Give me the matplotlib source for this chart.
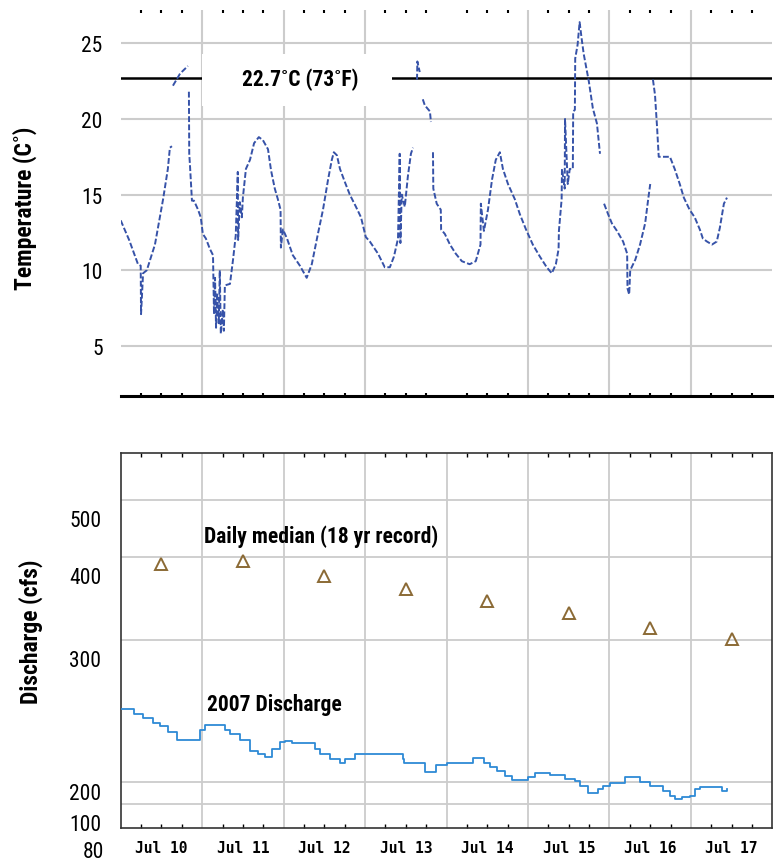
import numpy as np
import matplotlib
matplotlib.use("Agg")
import matplotlib.pyplot as plt
from matplotlib import font_manager, transforms
from matplotlib.patches import Rectangle

# ---- fonts
names = {f.name for f in font_manager.fontManager.ttflist}
NARROW = next((n for n in ["Liberation Sans Narrow", "Roboto Condensed", "DejaVu Sans"] if n in names), "DejaVu Sans")
STRETCH = "condensed" if NARROW == "DejaVu Sans" else "normal"
MONO = "DejaVu Sans Mono"

# ---- data (hours since Jul 10 00:00)
nan = np.nan
temp_hours = [0, 2.5, 5.1, 5.9, 6.0, 6.6, 7.7, 10.1, 12.5, 13.9, 14.5, 15.1, 15.2,
              15.4, 17.5, 19.8, 19.9,
              20.1, 20.2, 20.4, 21.0, 21.6, 22.8, 23.6, 24.2, 25.1, 26.3, 27.2, 27.5, 27.8,
              28.1, 28.4, 28.9, 29.2, 29.5, 30.1, 30.4, 30.7, 32.2, 33.1, 33.9, 34.5, 34.6,
              35.1, 35.7, 36.0, 36.9, 38.1, 39.3, 40.7, 41.9, 43.4, 44.3, 45.4, 46.3, 47.1,
              47.2, 47.8, 49.0, 50.7, 52.8, 54.8, 56.3, 58.1, 59.6, 61.1, 62.2, 62.8, 63.7,
              64.6, 66.1, 67.5, 69.3, 70.8, 72.2, 73.4, 75.8, 77.8, 79.3, 80.5, 81.7, 82.2,
              82.4, 82.8, 83.7, 84.6, 85.5, 86.1, 86.2,
              87.3, 87.4, 88.1, 88.2,
              89.0, 89.6, 91.1, 91.4, 91.5,
              92.0, 92.1, 93.1, 94.3, 94.4, 95.5, 97.0, 98.7, 100.5, 102.8, 104.6, 106.0,
              106.1, 107.0, 108.2, 109.4, 110.5, 111.7, 112.6, 114.1, 116.1, 117.6, 119.4,
              121.4, 123.5, 125.5, 127.0, 128.2, 129.0, 129.1, 129.9, 130.0, 130.8, 130.9,
              131.7, 132.3, 133.2, 133.3, 133.8, 133.9, 134.6, 135.2, 135.8, 136.4, 137.9,
              139.1, 140.3, 141.2, 141.3,
              142.4, 143.6, 144.7, 146.2, 148.0, 149.2, 149.3, 149.8, 150.1, 151.6, 153.0,
              154.5, 155.4, 156.0, 156.1,
              156.8, 157.4, 158.0, 158.5, 159.4, 161.8, 163.2, 164.7, 165.9, 167.6, 169.1,
              170.6, 171.5, 172.7, 174.2, 175.6, 176.5, 177.7, 178.6]
temp_c = [13.3, 12.0, 10.4, 10.3, 7.1, 9.8, 10.0, 11.7, 14.7, 16.7, 18.1, 18.2, nan,
          22.2, 23.0, 23.5, nan,
          21.8, 17.7, 17.0, 14.6, 14.6, 14.0, 13.5, 12.4, 12.1, 11.4, 11.0, 7.1, 9.5,
          6.2, 8.5, 6.5, 10.0, 5.8, 7.4, 6.0, 9.0, 9.1, 10.7, 12.3, 16.5, 12.0,
          14.5, 13.5, 14.8, 16.7, 17.3, 18.4, 18.8, 18.6, 18.0, 16.6, 15.4, 14.7, 14.0,
          11.5, 12.7, 12.1, 11.0, 10.3, 9.5, 10.4, 12.4, 14.0, 16.0, 17.3, 17.8, 17.6,
          16.7, 15.8, 15.0, 14.2, 13.5, 12.2, 11.9, 11.1, 10.2, 10.2, 10.9, 12.1, 17.7,
          11.8, 15.0, 14.2, 16.2, 17.7, 18.1, nan,
          22.6, 23.8, 23.1, nan,
          21.3, 20.9, 20.5, 19.8, nan,
          17.8, 15.4, 14.4, 14.0, 12.7, 12.4, 11.7, 11.1, 10.6, 10.4, 10.6, 11.7,
          14.4, 12.6, 14.0, 16.0, 17.3, 17.8, 16.7, 15.7, 14.7, 13.7, 12.7,
          11.7, 10.9, 10.2, 9.8, 10.4, 11.4, 12.6, 14.7, 16.7, 15.4, 20.0,
          15.7, 16.7, 16.7, 20.5, 20.6, 24.0, 24.9, 26.4, 25.3, 24.3, 22.5,
          20.7, 19.7, 17.7, nan,
          14.4, 13.7, 13.1, 12.6, 11.9, 11.1, 8.8, 8.4, 10.0, 10.7, 11.7,
          13.1, 14.7, 15.7, nan,
          22.6, 21.6, 19.5, 17.5, 17.5, 17.5, 16.7, 15.7, 14.8, 14.0, 13.5,
          12.7, 12.1, 11.9, 11.7, 11.9, 12.8, 14.4, 14.8]

q_hours = [0, 3.9, 6.6, 9.6, 11.6, 14.0, 16.6, 19.2, 23.4, 24.8, 30.7, 32.2, 35.1,
           38.1, 40.4, 42.5, 44.6, 46.9, 48.4, 50.4, 57.2, 58.7, 61.6, 64.6, 66.1,
           69.0, 71.4, 83.1, 83.4, 85.2, 89.6, 91.7, 92.9, 96.1, 102.9, 103.8, 105.8,
           107.0, 108.8, 110.8, 113.2, 115.2, 119.1, 119.9, 122.0, 125.0, 126.4, 129.4,
           130.8, 133.8, 135.2, 137.6, 140.5, 142.0, 144.1, 147.0, 148.5, 152.9, 155.8,
           158.2, 159.7, 161.7, 163.2, 165.5, 167.6, 169.1, 170.6, 172.7, 176.5, 177.1,
           178.6]
q_cfs = [251.5, 248.0, 245.0, 242.0, 239.5, 235.0, 229.6, 229.6, 236.7, 240.2, 236.7,
         233.9, 229.6, 221.9, 219.8, 217.6, 223.3, 228.2, 228.9, 227.5, 223.3, 219.8,
         216.2, 213.4, 216.2, 219.8, 219.8, 216.2, 213.4, 213.4, 207.1, 207.1, 212.0,
         213.4, 213.4, 216.9, 216.9, 213.4, 210.6, 207.8, 204.2, 201.4, 201.4, 203.5,
         206.4, 206.4, 204.9, 204.9, 202.1, 200.7, 181.8, 150.0, 168.0, 181.8, 195.5,
         195.5, 203.5, 200.0, 181.8, 181.8, 159.0, 136.0, 122.7, 131.8, 136.0, 168.0,
         177.0, 178.6, 178.6, 159.0, 168.0]

med_hours = [12, 36, 60, 84, 108, 132, 156, 180]
med_cfs = [391.9, 395.2, 377.8, 361.8, 347.0, 332.5, 314.5, 301.6]

day_labels = ["Jul 10", "Jul 11", "Jul 12", "Jul 13", "Jul 14", "Jul 15", "Jul 16", "Jul 17"]
threshold = 22.7

# odd discharge axis: labelled values mapped to screen positions (piecewise)
q_anchor_vals = [80, 100, 200, 300, 400, 500, 600]
q_anchor_pos = [0, 24, 46, 187.7, 270.7, 328.3, 385.9]

GRID = "#cccccc"
TEMP_C = "#3652a8"
Q_C = "#2e8ad6"
TRI_C = "#8b6a35"

fig = plt.figure(figsize=(7.75, 8.62), dpi=100)
ax1 = fig.add_axes([0.1557, 0.5391, 0.841, 0.4481])
ax2 = fig.add_axes([0.1557, 0.0383, 0.841, 0.4347])

hours_minor = [h for h in range(6, 192, 6) if h % 24]
midnights = list(range(24, 192, 24))
noons = list(range(12, 192, 24))

# ---------------- temperature panel
ax1.set_xlim(0, 192)
ax1.set_ylim(1.67, 27.2)
for s in ["left", "right", "top"]:
    ax1.spines[s].set_visible(False)
ax1.spines["bottom"].set_linewidth(2.2)
ax1.spines["bottom"].set_color("black")
ax1.set_yticks([5, 10, 15, 20, 25])
ax1.tick_params(axis="y", length=0, pad=13, labelsize=15.5)
for lab in ax1.get_yticklabels():
    lab.set_family(NARROW); lab.set_stretch(STRETCH)
ax1.set_xticks(hours_minor)
ax1.set_xticklabels([])
ax1.tick_params(axis="x", direction="in", length=2.5, width=1.5, top=True, bottom=True)
for y in [5, 10, 15, 20, 25]:
    ax1.axhline(y, color=GRID, lw=1.5, zorder=1)
for h in midnights:
    if h != 96:
        ax1.axvline(h, color=GRID, lw=1.5, zorder=1)
ax1.axhline(threshold, color="black", lw=1.8, zorder=2)
ax1.add_patch(Rectangle((23.9, 20.86), 56.0, 3.43, facecolor="white", edgecolor="none", zorder=3))
ax1.text(52.9, 22.64, "22.7˚C (73˚F)", ha="center", va="center", fontsize=15.5,
         fontweight="bold", family=NARROW, stretch=STRETCH, zorder=5)
ax1.plot(temp_hours, temp_c, color=TEMP_C, lw=1.4, ls=(0, (3, 1.2)), zorder=4)
ax1.set_ylabel("Temperature (C˚)", fontsize=17, fontweight="bold", family=NARROW, stretch=STRETCH)
ax1.yaxis.set_label_coords(-0.128, 0.49)

# ---------------- discharge panel
fwd = lambda v: np.interp(v, q_anchor_vals, q_anchor_pos)
inv = lambda p: np.interp(p, q_anchor_pos, q_anchor_vals)
ax2.set_yscale("function", functions=(fwd, inv))
ax2.set_xlim(0, 192)
ax2.set_ylim(80, 581)
yt = [500, 400, 300, 200, 100, 80]
ax2.set_yticks(yt)
ax2.set_yticklabels([str(v) for v in yt])
ax2.tick_params(axis="y", length=0, pad=14, labelsize=15.5)
for lab, v in zip(ax2.get_yticklabels(), yt):
    lab.set_family(NARROW); lab.set_stretch(STRETCH)
    dx, dy = (3, -21) if v == 80 else ((0, -9) if v == 200 else (0, -18))
    lab.set_transform(lab.get_transform() + transforms.ScaledTranslation(dx / 100, dy / 100, fig.dpi_scale_trans))
for v in yt[:-1]:
    ax2.axhline(v, color=GRID, lw=1.3, zorder=1)
for h in midnights:
    ax2.axvline(h, color=GRID, lw=1.3, zorder=1)
for s in ax2.spines.values():
    s.set_color("#333333"); s.set_linewidth(1.2)
ax2.set_xticks(noons)
ax2.set_xticklabels(day_labels)
ax2.set_xticks(hours_minor, minor=True)
ax2.tick_params(axis="x", which="both", direction="in", length=3, width=1, top=True, bottom=True,
                pad=9, labelsize=10.5)
for lab in ax2.get_xticklabels():
    lab.set_family(MONO); lab.set_fontweight("bold")
ax2.plot(q_hours, q_cfs, color=Q_C, lw=1.3, drawstyle="steps-post", zorder=3)
ax2.plot(med_hours, med_cfs, ls="none", marker="^", ms=9, mfc="none", mec=TRI_C, mew=1.4, zorder=3)
ax2.text(24.6, 437, "Daily median (18 yr record)", ha="left", va="center", fontsize=15.5,
         fontweight="bold", family=NARROW, stretch=STRETCH)
ax2.text(25.4, 255, "2007 Discharge", ha="left", va="center", fontsize=15.5,
         fontweight="bold", family=NARROW, stretch=STRETCH)
ax2.set_ylabel("Discharge (cfs)", fontsize=17, fontweight="bold", family=NARROW, stretch=STRETCH)
ax2.yaxis.set_label_coords(-0.119, 0.527)

fig.savefig("out.png", dpi=100)
